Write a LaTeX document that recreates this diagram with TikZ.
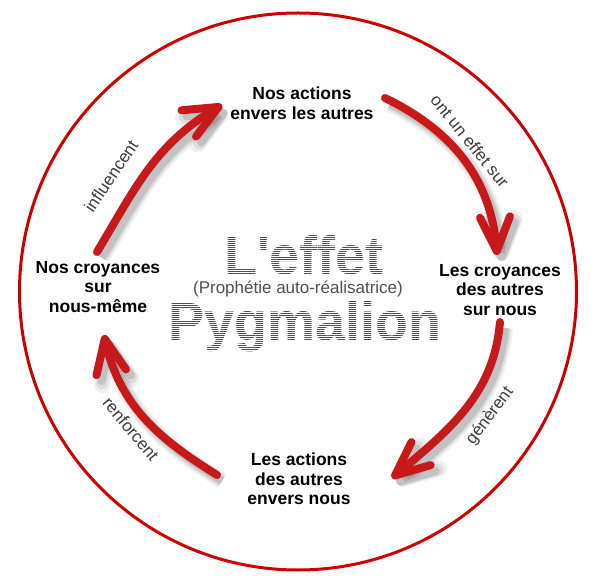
\documentclass[tikz,border=0pt]{standalone}
\usepackage{fontspec}
\setmainfont{Liberation Sans}
\newfontfamily\bigfont{Liberation Sans}
\usetikzlibrary{arrows.meta,bending}
\definecolor{ringred}{HTML}{CC0000}
\definecolor{arrred}{HTML}{C8191A}
\definecolor{lblgray}{HTML}{3C3C3C}
\definecolor{biggray}{HTML}{505050}
\begin{document}
\begin{tikzpicture}[x=1pt,y=1pt,
  lbl/.style={font=\fontsize{17.5}{19.5}\selectfont\bfseries, align=center, inner sep=0pt, text=black},
  arclbl/.style={font=\fontsize{17}{19}\selectfont, text=lblgray, inner sep=0pt},
  bigword/.style={font=\bigfont\fontsize{54}{54}\selectfont\bfseries, text=biggray, inner sep=0pt, anchor=base},
  stripe/.style={white, line width=1pt},
  cyc/.style={draw=arrred, line width=8pt, line cap=round,
     -{Straight Barb[length=34pt,width=30pt,round]},
     preaction={draw=black, opacity=0.06, line width=16pt, transform canvas={shift={(5pt,-6pt)}}},
     preaction={draw=black, opacity=0.08, line width=12pt, transform canvas={shift={(5pt,-6pt)}}},
     preaction={draw=black, opacity=0.12, line width=8pt, transform canvas={shift={(5pt,-6pt)}}}}
]
\useasboundingbox (0,0) rectangle (597,587);
\draw[ringred, line width=3pt] (298,295.5) circle[radius=278.5];

% main texts
\node[lbl] (top) at (302,484) {Nos actions\\envers les autres};
\node[lbl] (right) at (500,297) {Les croyances\\des autres\\sur nous};
\node[lbl] (bottom) at (299,108) {Les actions\\des autres\\envers nous};
\node[lbl] (left) at (98,300) {Nos croyances\\sur\\nous-même};

% center title
\node[bigword] (effet) at (304,312) {L'effet};
\node[bigword] (pyg) at (305,247) {Pygmalion};
\foreach \k in {310,312,...,352} \draw[stripe] (212,\k+0.5) -- (398,\k+0.5);
\foreach \k in {234,236,...,288} \draw[stripe] (155,\k+0.5) -- (452,\k+0.5);
\node[font=\fontsize{17}{19}\selectfont, text=biggray, anchor=base, inner sep=0pt] (proph) at (298,293) {(Prophétie auto-réalisatrice)};

% arrows
\coordinate (a1s) at (97,335);  \coordinate (a1e) at (222,482);
\coordinate (a2s) at (385,489); \coordinate (a2e) at (497,332);
\coordinate (a3s) at (500,265); \coordinate (a3e) at (392,109);
\coordinate (a4s) at (217,112); \coordinate (a4e) at (104,252);
\draw[cyc] (a1s) to[out=59,in=209] (a1e);
\draw[cyc] (a2s) to[out=-26,in=93] (a2e);
\draw[cyc] (a3s) to[out=-95,in=40] (a3e);
\draw[cyc] (a4s) to[out=148,in=-79] (a4e);

% arrow labels
\node[arclbl, rotate=56] (l1) at (111,411) {influencent};
\node[arclbl, rotate=-51] (l2) at (470,446) {ont un effet sur};
\node[arclbl, rotate=53] (l3) at (490,171) {génèrent};
\node[arclbl, rotate=-50] (l4) at (131,158) {renforcent};
\end{tikzpicture}
\end{document}
